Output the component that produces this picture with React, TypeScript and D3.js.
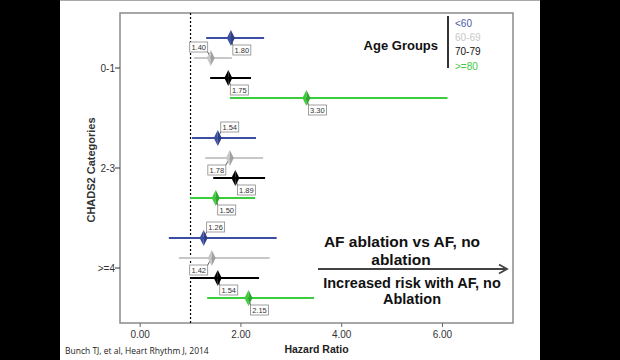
import React from "react";
import * as d3 from "d3";

const categories = ["0-1", "2-3", ">=4"];
const ageGroups = ["<60", "60-69", "70-79", ">=80"];
const ageColors = ["#3b4ea3", "#c8c8c8", "#000000", "#3ccc3c"];
const legendTextColors = ["#4a5aa8", "#c8c8c8", "#111111", "#44c844"];

// hazard ratios, lower and upper CI per category (rows: age groups)
const hr01 = [1.8, 1.4, 1.75, 3.3];
const lower01 = [1.31, 1.07, 1.39, 1.78];
const upper01 = [2.46, 1.82, 2.2, 6.1];
const hr23 = [1.54, 1.78, 1.89, 1.5];
const lower23 = [1.03, 1.29, 1.45, 0.99];
const upper23 = [2.3, 2.44, 2.48, 2.28];
const hr4 = [1.26, 1.42, 1.54, 2.15];
const lower4 = [0.57, 0.77, 1.0, 1.33];
const upper4 = [2.71, 2.57, 2.36, 3.45];

const xTicks = [0, 2, 4, 6];
const referenceHR = 1;

// label placement: br = below right, tr = above right, bl = below left, tl = above left
const labelPlacement = [
  ["br", "tl", "br", "br"],
  ["tr", "bl", "br", "br"],
  ["tr", "bl", "br", "br"],
];

const W = 620;
const H = 360;
const FONT = "'Liberation Sans', Arial, sans-serif";

export default function App() {
  const hrs = [hr01, hr23, hr4];
  const lows = [lower01, lower23, lower4];
  const ups = [upper01, upper23, upper4];

  const left = 120, right = 513, top = 13, bottom = 323;
  const x = d3.scaleLinear().domain([-0.4, 7.4]).range([left, right]);
  const yCat = d3.scaleBand().domain(categories).range([18, 318]);
  const yAge = d3.scaleBand().domain(ageGroups).range([-40, 40]);
  const catCenter = (c: string) => (yCat(c) as number) + yCat.bandwidth() / 2;
  const rowY = (c: string, a: string) =>
    catCenter(c) + (yAge(a) as number) + yAge.bandwidth() / 2;

  const rows: any[] = [];
  categories.forEach((c, ci) => {
    ageGroups.forEach((a, ai) => {
      rows.push({
        c, a, ci, ai,
        hr: hrs[ci][ai],
        lo: lows[ci][ai],
        hi: ups[ci][ai],
        place: labelPlacement[ci][ai],
      });
    });
  });

  const dw = 4, dh = 8;
  const boxW = 18, boxH = 10;

  return (
    <svg
      width={W}
      height={H}
      style={{ position: "fixed", left: 0, top: 0, display: "block" }}
      fontFamily={FONT}
    >
      <rect x={0} y={0} width={W} height={H} fill="#000" />
      <rect x={60} y={0} width={480} height={H} fill="#fff" />
      <line x1={60} x2={540} y1={0.5} y2={0.5} stroke="#aaa" strokeWidth={1} />

      {/* frame */}
      <rect
        x={left}
        y={top}
        width={right - left}
        height={bottom - top}
        fill="none"
        stroke="#8a8a8a"
        strokeWidth={1.5}
      />

      {/* reference line */}
      <line
        x1={x(referenceHR)}
        x2={x(referenceHR)}
        y1={top}
        y2={bottom}
        stroke="#000"
        strokeWidth={1.2}
        strokeDasharray="2,2"
      />

      {/* x axis */}
      {xTicks.map((t) => (
        <g key={t}>
          <line x1={x(t)} x2={x(t)} y1={bottom} y2={bottom + 4} stroke="#666" strokeWidth={1} />
          <text x={x(t)} y={338} textAnchor="middle" fontSize={10} fill="#333">
            {d3.format(".2f")(t)}
          </text>
        </g>
      ))}
      <text x={(left + right) / 2} y={353} textAnchor="middle" fontSize={10.5} fontWeight="bold" fill="#222">
        Hazard Ratio
      </text>

      {/* y axis */}
      {categories.map((c) => (
        <g key={c}>
          <line x1={left - 5} x2={left} y1={catCenter(c)} y2={catCenter(c)} stroke="#333" strokeWidth={1} />
          <text x={left - 5} y={catCenter(c) + 3.5} textAnchor="end" fontSize={10} fill="#333">
            {c}
          </text>
        </g>
      ))}
      <text
        transform={`translate(95, 170) rotate(-90)`}
        textAnchor="middle"
        fontSize={11}
        fontWeight="bold"
        fill="#333"
      >
        CHADS2 Categories
      </text>

      {/* CI lines */}
      {rows.map((r) => (
        <line
          key={`ci-${r.ci}-${r.ai}`}
          x1={x(r.lo)}
          x2={x(r.hi)}
          y1={rowY(r.c, r.a)}
          y2={rowY(r.c, r.a)}
          stroke={ageColors[r.ai]}
          strokeWidth={2}
        />
      ))}

      {/* labels with leader */}
      {rows.map((r) => {
        const px = x(r.hr);
        const py = rowY(r.c, r.a);
        let bx = 0, by = 0, cx = 0, cy = 0;
        if (r.place === "br") { bx = px + 2; by = py + 7; cx = bx; cy = by; }
        else if (r.place === "tr") { bx = px + 3; by = py - 6 - boxH; cx = bx; cy = by + boxH; }
        else if (r.place === "bl") { bx = px - 4 - boxW; by = py + 7; cx = bx + boxW; cy = by; }
        else { bx = px - 3 - boxW; by = py - 6 - boxH; cx = bx + boxW; cy = by + boxH; }
        return (
          <g key={`lab-${r.ci}-${r.ai}`}>
            <line x1={px} y1={py} x2={cx} y2={cy} stroke="#333" strokeWidth={0.8} />
            <rect x={bx} y={by} width={boxW} height={boxH} fill="#fff" stroke="#888" strokeWidth={0.8} />
            <text x={bx + boxW / 2} y={by + boxH - 2.2} textAnchor="middle" fontSize={7.5} fill="#333">
              {d3.format(".2f")(r.hr)}
            </text>
          </g>
        );
      })}

      {/* diamonds */}
      {rows.map((r) => {
        const px = x(r.hr);
        const py = rowY(r.c, r.a);
        const col = ageColors[r.ai];
        const dark = d3.color(col)!.darker(0.6).toString();
        return (
          <g key={`d-${r.ci}-${r.ai}`}>
            <path d={`M${px},${py - dh} L${px - dw},${py} L${px},${py + dh} Z`} fill={col} />
            <path d={`M${px},${py - dh} L${px + dw},${py} L${px},${py + dh} Z`} fill={r.ai === 2 ? "#000" : dark} />
          </g>
        );
      })}

      {/* legend */}
      <line x1={448} x2={448} y1={16} y2={68} stroke="#333" strokeWidth={2} />
      <text x={438} y={50} textAnchor="end" fontSize={13} fontWeight="bold" fill="#111">
        Age Groups
      </text>
      {ageGroups.map((a, i) => (
        <text key={a} x={455} y={27 + i * 14.2} fontSize={10} fill={legendTextColors[i]}>
          {a}
        </text>
      ))}

      {/* annotation */}
      <text x={402} y={247} textAnchor="middle" fontSize={15.5} fontWeight="bold" fill="#111">
        AF ablation vs AF, no
      </text>
      <text x={401} y={265} textAnchor="middle" fontSize={15.5} fontWeight="bold" fill="#111">
        ablation
      </text>
      <line x1={318} x2={506} y1={269} y2={269} stroke="#444" strokeWidth={1.8} />
      <path d="M499,264.5 L507,269 L499,273.5" fill="none" stroke="#444" strokeWidth={1.8} />
      <text x={412} y={288} textAnchor="middle" fontSize={14.5} fontWeight="bold" fill="#111">
        Increased risk with AF, no
      </text>
      <text x={412} y={304} textAnchor="middle" fontSize={14.5} fontWeight="bold" fill="#111">
        Ablation
      </text>

      {/* citation */}
      <text x={65} y={354} fontSize={8.5} fill="#222" fontFamily="'Open Sans', sans-serif">
        Bunch TJ, et al, Heart Rhythm J, 2014
      </text>
    </svg>
  );
}
